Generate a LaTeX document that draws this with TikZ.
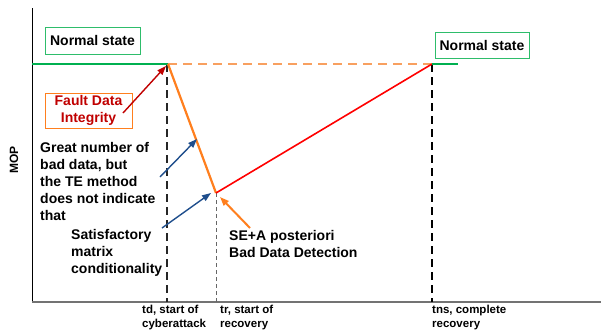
\documentclass[tikz,border=0pt]{standalone}
\usepackage{fontspec}
\setmainfont{Liberation Sans}
\usetikzlibrary{arrows.meta}
\definecolor{cgreen}{HTML}{00B050}
\definecolor{corange}{HTML}{FF7F1E}
\definecolor{cdash}{HTML}{F8A060}
\definecolor{cdred}{HTML}{C00000}
\definecolor{cblue}{HTML}{1F4E8C}
\definecolor{cboxgreen}{HTML}{2EBD6B}
\tikzset{
  x=1pt, y=-1pt,
  lbl/.style={font=\fontsize{14}{17}\selectfont\bfseries, align=left, anchor=north west, inner sep=0pt},
  small/.style={font=\fontsize{11.5}{13.5}\selectfont\bfseries, align=left, anchor=north west, inner sep=0pt},
  gbox/.style={draw=cboxgreen, line width=1pt, font=\fontsize{14}{17}\selectfont\bfseries, inner sep=0pt},
  obox/.style={draw=corange, line width=1pt, text=cdred, align=center, font=\fontsize{14}{17}\selectfont\bfseries, inner sep=0pt},
  arr/.style={line width=1.4pt, -{Triangle[length=9pt,width=6.5pt]}},
  vdash/.style={line width=1.5pt, dash pattern=on 8pt off 5pt},
}
\begin{document}
\begin{tikzpicture}
\useasboundingbox (0,0) rectangle (601,332);
% key points
\coordinate (ytop) at (32,8);
\coordinate (o) at (32,302);
\coordinate (xend) at (601,302);
\coordinate (start) at (32,64);
\coordinate (td) at (168,64);
\coordinate (tr) at (216,193);
\coordinate (tns) at (432,64);
\coordinate (tnsend) at (458,64);
\coordinate (tdb) at (167,302);
\coordinate (tdt) at (167,64);
\coordinate (trb) at (216,302);
\coordinate (tnsb) at (432,302);
% axes
\draw[line width=1pt] (ytop) -- (o);
\draw[line width=1.5pt, black!55] (o) -- (xend);
% verticals
\draw[vdash, black!85] (tdt) -- (tdb);
\draw[line width=0.9pt, black!60, dash pattern=on 4pt off 3pt] (tr) -- (trb);
\draw[vdash, black] (tns) -- (tnsb);
% curve
\draw[cgreen, line width=2.2pt] (start) -- (td);
\draw[cdash, line width=1.5pt, dash pattern=on 9pt off 6pt] (td) -- (tns);
\draw[corange, line width=2.2pt] (td) -- (tr);
\draw[red, line width=1.6pt] (tr) -- (tns);
\draw[cgreen, line width=2.2pt] (tns) -- (tnsend);
% boxes
\node[gbox, minimum width=95pt, minimum height=27pt] (ns1) at (92.5,40.5) {Normal state};
\node[gbox, minimum width=94pt, minimum height=26pt] (ns2) at (482,45) {Normal state};
\node[obox, minimum width=87pt, minimum height=35pt] (fdi) at (88.5,110.5) {Fault Data\\Integrity};
% texts
\node[lbl] (great) at (40,142) {Great number of\\bad data, but\\the TE method\\does not indicate\\that};
\node[lbl] (sat) at (71,229) {Satisfactory\\matrix\\conditionality};
\node[lbl] (se) at (229,230) {SE+A posteriori\\Bad Data Detection};
\node[small] (tdl) at (142,305) {td, start of\\cyberattack};
\node[small] (trl) at (220,305) {tr, start of\\recovery};
\node[small] (tnsl) at (432,305) {tns, complete\\recovery};
\node[font=\fontsize{12}{14}\selectfont\bfseries, rotate=90, inner sep=0pt] (mop) at (14,160) {MOP};
% arrow anchors
\coordinate (a1s) at (123,113);
\coordinate (a1e) at (166,66);
\coordinate (a2s) at (160,177);
\coordinate (a2e) at (197,139);
\coordinate (a3s) at (162,228);
\coordinate (a3e) at (211,193);
\coordinate (a4s) at (250,228);
\coordinate (a4e) at (220,197);
\draw[arr, cdred] (a1s) -- (a1e);
\draw[arr, cblue] (a2s) -- (a2e);
\draw[arr, cblue] (a3s) -- (a3e);
\draw[arr, corange, line width=2pt] (a4s) -- (a4e);
\end{tikzpicture}
\end{document}
